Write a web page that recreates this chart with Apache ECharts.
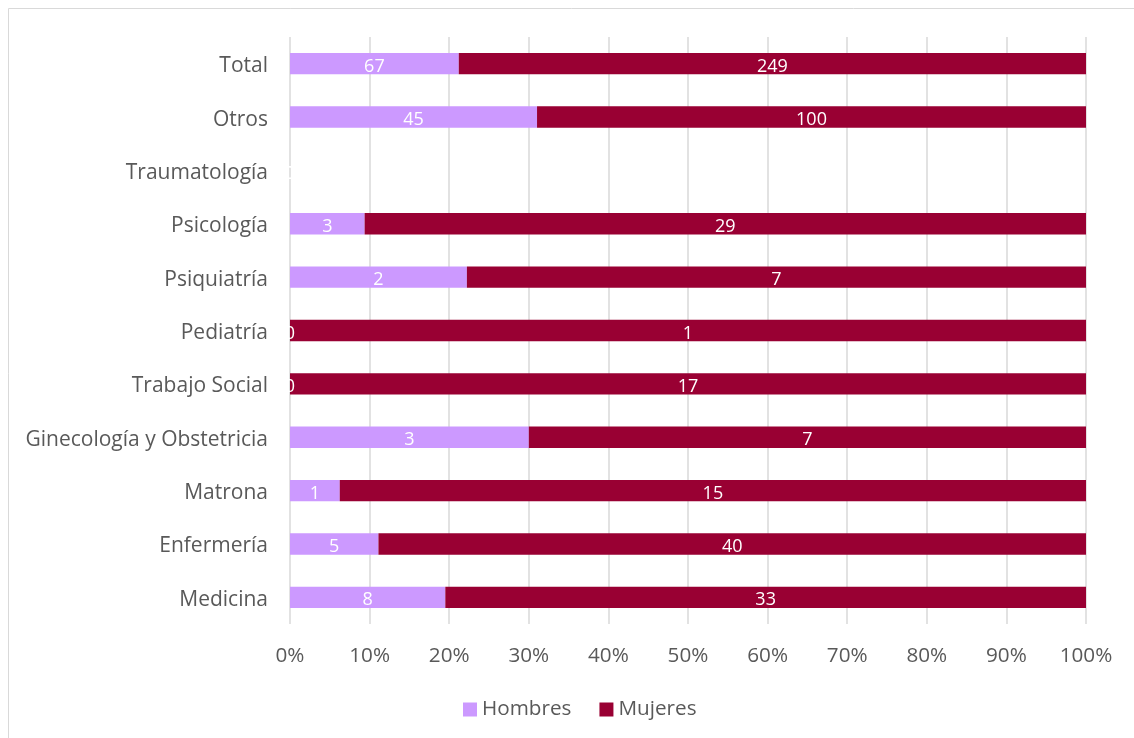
<!DOCTYPE html>
<html>
<head>
<meta charset="utf-8">
<script src="https://cdn.jsdelivr.net/npm/echarts@6/dist/echarts.min.js"></script>
<style>
  html, body { margin: 0; padding: 0; background: #fff; }
  #chart { width: 1134px; height: 738px; }
</style>
</head>
<body>
<div id="chart"></div>
<script>
// categorias (de abajo hacia arriba)
const categories = ['Medicina', 'Enfermería', 'Matrona', 'Ginecología y Obstetricia', 'Trabajo Social',
  'Pediatría', 'Psiquiatría', 'Psicología', 'Traumatología', 'Otros', 'Total']
const hombres = [8, 5, 1, 3, 0, 0, 2, 3, 0, 45, 67]
const mujeres = [33, 40, 15, 7, 17, 1, 7, 29, 0, 100, 249]

// porcentaje de cada fila
function pct(arr) {
  return arr.map((v, i) => {
    const t = hombres[i] + mujeres[i]
    return t > 0 ? v / t * 100 : 0
  })
}

const font = 'Open Sans'
const labelStyle = {
  show: true,
  position: 'inside',
  color: '#fff',
  fontFamily: font,
  fontSize: 18,
  offset: [0, 3]
}

let chart = echarts.init(document.getElementById('chart'))
chart.setOption({
  animation: false,
  textStyle: { fontFamily: font },
  graphic: [{
    type: 'rect',
    shape: { x: 8.5, y: 8.5, width: 1140, height: 740 },
    style: { fill: 'none', stroke: '#d9d9d9', lineWidth: 1 },
    silent: true
  }],
  legend: {
    bottom: 13,
    left: 458,
    icon: 'rect',
    itemWidth: 14,
    itemHeight: 14,
    itemGap: 28,
    textStyle: { fontSize: 20.7, color: '#595959', fontFamily: font },
    data: ['Hombres', 'Mujeres']
  },
  grid: { left: 290, right: 48, top: 37, bottom: 114 },
  xAxis: {
    type: 'value',
    min: 0,
    max: 100,
    interval: 10,
    axisLabel: { formatter: '{value}%', fontSize: 20.7, color: '#595959', margin: 22 },
    axisLine: { show: false },
    axisTick: { show: false },
    splitLine: { lineStyle: { color: '#d9d9d9', width: 1.5 } }
  },
  yAxis: {
    type: 'category',
    data: categories,
    axisLabel: { fontSize: 21, color: '#595959', margin: 22, verticalAlign: 'top', lineHeight: 5 },
    axisLine: { show: false },
    axisTick: { show: false }
  },
  series: [
    {
      name: 'Hombres',
      type: 'bar',
      stack: 'total',
      barCategoryGap: '60%',
      itemStyle: { color: '#cc99ff' },
      label: Object.assign({}, labelStyle, { formatter: p => hombres[p.dataIndex] }),
      data: pct(hombres)
    },
    {
      name: 'Mujeres',
      type: 'bar',
      stack: 'total',
      barCategoryGap: '60%',
      itemStyle: { color: '#990033' },
      label: Object.assign({}, labelStyle, { formatter: p => mujeres[p.dataIndex] }),
      data: pct(mujeres)
    }
  ]
})
</script>
</body>
</html>
